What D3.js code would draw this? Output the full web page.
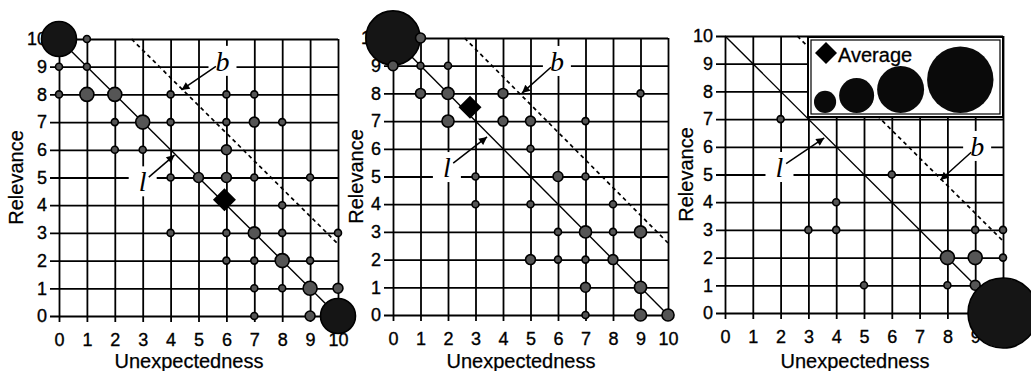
<!DOCTYPE html>
<html>
<head>
<meta charset="utf-8">
<script src="https://cdn.jsdelivr.net/npm/d3@7"></script>
<style>
  body { margin: 0; background: #fff; }
  svg { display: block; }
  .tick text { font-family: "Liberation Sans", Arial, sans-serif; font-size: 18px; fill: #000; stroke: #000; stroke-width: 0.35px; }
  .axis-title { font-family: "Liberation Sans", Arial, sans-serif; font-size: 20px; stroke: #000; stroke-width: 0.25px; }
  .letter { font-family: "Liberation Serif", "Times New Roman", serif; font-style: italic; font-size: 28px; }
  .legend-text { font-family: "Liberation Sans", Arial, sans-serif; font-size: 20px; stroke: #000; stroke-width: 0.3px; }
</style>
</head>
<body>
<svg id="chart" width="1031" height="371"></svg>
<script>
// tick labels shared by both axes of every panel
const tickValues = [0, 1, 2, 3, 4, 5, 6, 7, 8, 9, 10];

// [unexpectedness, relevance, count]
const pointsA = [
  [0, 10, 25], [1, 10, 1], [0, 9, 1], [1, 9, 1], [0, 8, 1], [1, 8, 4], [2, 8, 4],
  [2, 7, 1], [3, 7, 4], [2, 6, 1], [3, 6, 1], [4, 8, 1], [4, 7, 1], [4, 5, 1], [4, 3, 1],
  [6, 8, 1], [7, 8, 1], [6, 7, 1], [7, 7, 2], [8, 7, 1], [6, 6, 2], [5, 5, 2], [6, 5, 2],
  [7, 5, 1], [9, 5, 1], [8, 4, 1], [6, 3, 1], [7, 3, 3], [8, 3, 1], [10, 3, 1],
  [6, 2, 1], [7, 2, 1], [8, 2, 4], [9, 2, 1], [7, 1, 1], [8, 1, 1], [9, 1, 4], [10, 1, 2],
  [7, 0, 1], [9, 0, 2], [10, 0, 25]
];
const pointsB = [
  [0, 10, 60], [1, 10, 2], [0, 9, 2], [1, 9, 1], [2, 9, 1], [1, 8, 2], [2, 8, 3],
  [2, 7, 3], [4, 8, 2], [4, 7, 2], [3, 5, 1], [3, 4, 1], [5, 7, 2], [7, 7, 1], [9, 8, 1],
  [5, 6, 1], [6, 5, 2], [7, 5, 1], [5, 4, 1], [8, 4, 1], [6, 3, 1], [7, 3, 3], [8, 3, 1],
  [9, 3, 3], [5, 2, 2], [6, 2, 1], [7, 2, 1], [8, 2, 2], [7, 1, 2], [9, 1, 3],
  [7, 0, 1], [9, 0, 3], [10, 0, 3]
];
const pointsC = [
  [2, 7, 1], [6, 5, 1], [3, 3, 1], [4, 4, 1], [4, 3, 1], [5, 1, 1], [9, 3, 1], [10, 3, 1],
  [8, 2, 4], [9, 2, 4], [10, 2, 1], [8, 1, 1], [9, 1, 2], [10, 0, 100]
];
const averages = [[5.93, 4.2], [2.8, 7.5], null];
const legendSizes = [10, 25, 45, 90];
const lineL = 10;     // x + y = 10
const lineB = 12.6;   // x + y = 12.6

const svg = d3.select("#chart");
const size = d3.scaleSqrt().domain([0, 100]).range([0, 35]);

svg.append("defs").append("marker")
  .attr("id", "head")
  .attr("viewBox", "0 0 10 10")
  .attr("refX", 10).attr("refY", 5)
  .attr("markerUnits", "userSpaceOnUse")
  .attr("markerWidth", 13).attr("markerHeight", 8)
  .attr("orient", "auto")
  .append("path").attr("d", "M0,0L10,5L0,10Z").attr("fill", "#000");

// pixel layout of each panel, plus where the l / b call-outs sit
const panels = [
  { pts: pointsA, avg: averages[0], x: [59, 338], y: [316, 39], yTitle: 23, xTitle: 189,
    notes: [{ t: "l", at: [3.0, 4.5], tip: [4.14, 5.81] }, { t: "b", at: [5.86, 8.85], tip: [4.39, 8.16] }] },
  { pts: pointsB, avg: averages[1], x: [393, 668], y: [315, 38], yTitle: 363, xTitle: 521,
    notes: [{ t: "l", at: [1.96, 4.98], tip: [3.42, 6.43] }, { t: "b", at: [5.96, 8.81], tip: [4.69, 8.01] }] },
  { pts: pointsC, avg: averages[2], x: [725, 1003], y: [313, 36], yTitle: 693, xTitle: 855, legend: true,
    notes: [{ t: "l", at: [1.96, 4.91], tip: [3.57, 6.32] }, { t: "b", at: [9.07, 5.67], tip: [7.75, 4.8] }] }
];

const diamond = h => `M0,${-h}L${h},0L0,${h}L${-h},0Z`;

panels.forEach(p => {
  const x = d3.scaleLinear().domain([0, 10]).range(p.x);
  const y = d3.scaleLinear().domain([0, 10]).range(p.y);
  const w = p.x[1] - p.x[0], h = p.y[0] - p.y[1];
  const g = svg.append("g");

  // axes with full-length ticks as the grid
  const xa = g.append("g")
    .attr("transform", `translate(0,${y(0) + 6})`)
    .call(d3.axisBottom(x).tickValues(tickValues).tickSize(-(h + 6)).tickPadding(11));
  const ya = g.append("g")
    .attr("transform", `translate(${x(0) - 9},0)`)
    .call(d3.axisLeft(y).tickValues(tickValues).tickSize(-(w + 9)).tickPadding(3));
  [xa, ya].forEach(a => {
    a.select(".domain").remove();
    a.selectAll(".tick line").attr("stroke", "#000").attr("stroke-width", 1.8);
  });
  xa.selectAll(".tick text").attr("dy", "0.71em");

  g.append("text").attr("class", "axis-title")
    .attr("x", p.xTitle).attr("y", 368).attr("text-anchor", "middle")
    .text("Unexpectedness");
  g.append("text").attr("class", "axis-title")
    .attr("transform", `translate(${p.yTitle},${(p.y[0] + p.y[1]) / 2}) rotate(-90)`)
    .attr("text-anchor", "middle")
    .text("Relevance");

  // reference lines
  g.append("line")
    .attr("x1", x(0)).attr("y1", y(lineL)).attr("x2", x(lineL)).attr("y2", y(0))
    .attr("stroke", "#000").attr("stroke-width", 1.4);
  g.append("line")
    .attr("x1", x(lineB - 10)).attr("y1", y(10)).attr("x2", x(10)).attr("y2", y(lineB - 10))
    .attr("stroke", "#000").attr("stroke-width", 1.7).attr("stroke-dasharray", "4,3.5");

  // call-outs
  p.notes.forEach(n => {
    const lx = x(n.at[0]), ly = y(n.at[1]);
    const cx = lx, cy = ly - 9;
    g.append("rect").attr("x", cx - 14).attr("y", cy - 16).attr("width", 28).attr("height", 30)
      .attr("fill", "#fff");
    g.append("text").attr("class", "letter")
      .attr("x", lx).attr("y", ly).attr("text-anchor", "middle").text(n.t);
    const tx = x(n.tip[0]), ty = y(n.tip[1]);
    const len = Math.hypot(tx - cx, ty - cy);
    g.append("line")
      .attr("x1", cx + (tx - cx) * 8 / len).attr("y1", cy + (ty - cy) * 8 / len)
      .attr("x2", tx).attr("y2", ty)
      .attr("stroke", "#000").attr("stroke-width", 1.5)
      .attr("marker-end", "url(#head)");
  });

  if (p.legend) {
    const lg = g.append("g");
    lg.append("rect").attr("x", 808).attr("y", 37).attr("width", 195).attr("height", 80)
      .attr("fill", "#fff").attr("stroke", "#000").attr("stroke-width", 2);
    lg.append("rect").attr("x", 811).attr("y", 40).attr("width", 189).attr("height", 74)
      .attr("fill", "none").attr("stroke", "#000").attr("stroke-width", 1.2);
    lg.append("path").attr("d", diamond(11)).attr("transform", "translate(826,53)").attr("fill", "#000");
    lg.append("text").attr("class", "legend-text").attr("x", 838).attr("y", 62).text("Average");
    let cursor = 814;
    const lc = legendSizes.map(v => {
      const r = size(v);
      const c = { cx: cursor + r, cy: 113 - r, r: r };
      cursor += 2 * r + 3;
      return c;
    });
    lg.selectAll("circle").data(lc).enter().append("circle")
      .attr("cx", d => d.cx).attr("cy", d => d.cy).attr("r", d => d.r)
      .attr("fill", "#0a0a0a");
  }

  // bubbles
  g.selectAll(".bub").data(p.pts).enter().append("circle")
    .attr("class", "bub")
    .attr("cx", d => x(d[0])).attr("cy", d => y(d[1]))
    .attr("r", d => size(d[2]))
    .attr("fill", d => d[2] > 10 ? "#151515" : "#555")
    .attr("stroke", "#000").attr("stroke-width", 1.6);

  if (p.avg) {
    g.append("path").attr("d", diamond(11.5))
      .attr("transform", `translate(${x(p.avg[0])},${y(p.avg[1])})`)
      .attr("fill", "#000");
  }
});
</script>
</body>
</html>
